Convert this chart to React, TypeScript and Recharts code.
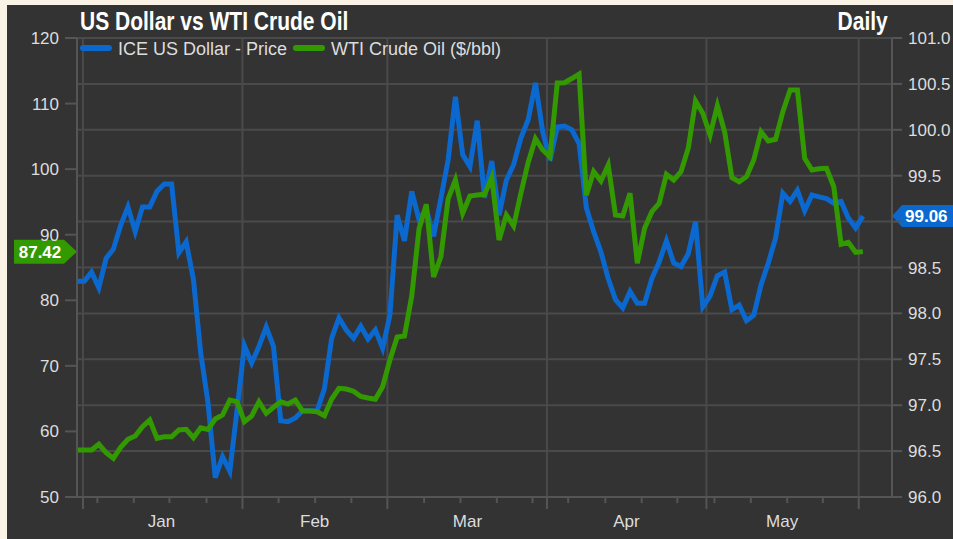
import React from "react";
import {
  LineChart,
  Line,
  XAxis,
  YAxis,
  CartesianGrid,
  ReferenceLine,
} from "recharts";

// Trading-day index (0 = first session shown)
const dayIndex: number[] = Array.from({ length: 109 }, (_, k) => k);

// ICE US Dollar index (right axis)
const usdValues: number[] = [
  98.35, 98.35, 98.45, 98.28, 98.6, 98.7, 98.96, 99.16, 98.89, 99.16,
  99.16, 99.33, 99.41, 99.41, 98.66, 98.78, 98.37, 97.57, 97.03, 96.21,
  96.44, 96.28, 96.95, 97.65, 97.46, 97.64, 97.85, 97.64, 96.83, 96.82,
  96.86, 96.94, 96.94, 96.94, 97.18, 97.73, 97.95, 97.82, 97.73, 97.86,
  97.72, 97.82, 97.62, 97.98, 99.07, 98.79, 99.33, 99.02, 99.14, 98.84,
  99.25, 99.67, 100.36, 99.73, 99.6, 100.1, 99.26, 99.66, 99.07, 99.45,
  99.62, 99.91, 100.11, 100.51, 99.98, 99.67, 100.03, 100.04, 100.0, 99.85,
  99.15, 98.89, 98.67, 98.38, 98.15, 98.06, 98.24, 98.11, 98.11, 98.38,
  98.56, 98.79, 98.55, 98.51, 98.65, 99.0, 98.07, 98.19, 98.41, 98.45,
  98.04, 98.09, 97.92, 97.98, 98.31, 98.55, 98.82, 99.31, 99.22, 99.34,
  99.12, 99.29, 99.27, 99.25, 99.2, 99.22, 99.04, 98.93, 99.06,
];

// WTI Crude Oil $/bbl (left axis)
const wtiValues: number[] = [
  57.17, 57.17, 57.17, 58.04, 56.75, 55.9, 57.58, 58.8, 59.3, 60.72,
  61.74, 58.95, 59.19, 59.19, 60.22, 60.32, 59.04, 60.57, 60.32, 61.9,
  62.5, 64.79, 64.53, 61.48, 62.35, 64.53, 62.76, 63.68, 64.53, 64.18,
  64.79, 63.11, 63.11, 63.0, 62.4, 64.94, 66.58, 66.47, 66.13, 65.33,
  65.1, 64.9, 66.82, 70.9, 74.4, 74.55, 80.65, 90.87, 94.61, 83.55,
  86.6, 95.45, 98.34, 93.27, 95.9, 96.06, 96.16, 98.73, 89.2, 93.0,
  91.33, 96.32, 101.01, 104.64, 102.92, 101.9, 113.14, 113.18, 113.82, 114.51,
  96.06, 99.64, 98.19, 100.63, 93.0, 92.85, 96.32, 85.64, 90.98, 93.51,
  94.79, 99.21, 98.34, 99.61, 103.18, 110.39, 108.52, 105.21, 109.68, 105.71,
  98.69, 98.08, 98.85, 101.39, 105.71, 104.29, 104.55, 108.76, 112.07, 112.07,
  101.65, 99.87, 100.07, 100.13, 97.32, 88.54, 88.84, 87.32, 87.42,
];

const monthStarts: number[] = [0.82, 22.74, 42.65, 64.58, 86.5, 107.43];
const weekTicks: number[] = [
  2.8, 7.8, 12.7, 17.8, 27.7, 32.73, 37.7, 47.7, 52.7, 57.7, 62.6, 67.5,
  72.6, 77.6, 82.5, 87.6, 92.6, 97.6, 102.5,
];
const monthLabels: string[] = ["Jan", "Feb", "Mar", "Apr", "May"];
const monthMids: number[] = [11.6, 32.66, 53.66, 75.5, 96.9];

const leftTicks: number[] = [50, 60, 70, 80, 90, 100, 110, 120];
const rightTicks: number[] = [96, 96.5, 97, 97.5, 98, 98.5, 99, 99.5, 100, 100.5, 101];

const TITLE = "US Dollar vs WTI Crude Oil";
const PERIOD = "Daily";
const USD_NAME = "ICE US Dollar - Price";
const WTI_NAME = "WTI Crude Oil ($/bbl)";

const data = dayIndex.map((i, k) => ({ i, usd: usdValues[k], wti: wtiValues[k] }));
const lastUsd = usdValues[usdValues.length - 1];
const lastWti = wtiValues[wtiValues.length - 1];

const BG = "#333333";
const GRID = "#4a4a4a";
const AXIS = "#555555";
const TEXT = "#dddddd";
const BLUE = "#0a68cf";
const GREEN = "#339900";
const FONT = "'Liberation Sans', Arial, Helvetica, sans-serif";

const allXTicks = [...monthStarts, ...weekTicks, ...monthMids];

const XTick = (props: any) => {
  const { x, y, payload } = props;
  const v = payload.value;
  const mi = monthMids.indexOf(v);
  if (mi >= 0) {
    return (
      <text x={x} y={y + 24} dy="0.35em" textAnchor="middle" fill={TEXT} fontSize={17} fontFamily={FONT}>
        {monthLabels[mi]}
      </text>
    );
  }
  const major = monthStarts.indexOf(v) >= 0;
  return <line x1={x} x2={x} y1={y} y2={y + (major ? 12 : 6)} stroke={AXIS} strokeWidth={2} />;
};

const WtiBadge = (props: any) => {
  const vb = props.viewBox || {};
  const x = vb.x;
  const cy = vb.y;
  const pts = `${x},${cy} ${x - 13},${cy - 12} ${x - 63},${cy - 12} ${x - 63},${cy + 12} ${x - 13},${cy + 12}`;
  return (
    <g>
      <polygon points={pts} fill={GREEN} />
      <text x={x - 37} y={cy} dy="0.36em" textAnchor="middle" fill="#ffffff" fontWeight="bold" fontSize={17} fontFamily={FONT}>
        {lastWti.toFixed(2)}
      </text>
    </g>
  );
};

const UsdBadge = (props: any) => {
  const vb = props.viewBox || {};
  const x = vb.x + vb.width;
  const cy = vb.y;
  const pts = `${x},${cy} ${x + 10},${cy - 11} ${x + 80},${cy - 11} ${x + 80},${cy + 11} ${x + 10},${cy + 11}`;
  return (
    <g>
      <polygon points={pts} fill={BLUE} />
      <text x={x + 13} y={cy} dy="0.36em" textAnchor="start" fill="#ffffff" fontWeight="bold" fontSize={17} fontFamily={FONT}>
        {lastUsd.toFixed(2)}
      </text>
    </g>
  );
};

// the last-value badge covers the 99.0 label in the reference
const rightTickFormat = (v: number) => (Math.abs(v - Math.round(lastUsd * 2) / 2) < 1e-6 ? "" : v.toFixed(1));

export default function App() {
  return (
    <div style={{ position: "fixed", left: 0, top: 0, width: 953, height: 539, background: "#faf3e5" }}>
      <div style={{ position: "absolute", left: 7, top: 5, width: 946, height: 534, background: BG, overflow: "hidden" }}>
        <LineChart
          width={946}
          height={534}
          data={data}
          margin={{ top: 33, right: 0, bottom: 0, left: 0 }}
          style={{ fontFamily: FONT }}
        >
          <CartesianGrid yAxisId="right" vertical={false} stroke={GRID} strokeWidth={2} />
          {monthStarts.map((m) => (
            <ReferenceLine key={m} x={m} yAxisId="right" stroke={GRID} strokeWidth={2} />
          ))}
          <XAxis
            dataKey="i"
            type="number"
            domain={[0, 112]}
            ticks={allXTicks}
            interval={0}
            tickSize={0}
            tickMargin={0}
            tickLine={false}
            axisLine={{ stroke: AXIS, strokeWidth: 2 }}
            tick={<XTick />}
            height={42}
          />
          <YAxis
            yAxisId="left"
            orientation="left"
            domain={[50, 120]}
            ticks={leftTicks}
            interval={0}
            width={70}
            tickSize={12}
            tickMargin={6}
            axisLine={{ stroke: AXIS, strokeWidth: 2 }}
            tickLine={{ stroke: AXIS, strokeWidth: 2 }}
            tick={{ fill: TEXT, fontSize: 17, fontFamily: FONT }}
          />
          <YAxis
            yAxisId="right"
            orientation="right"
            domain={[96, 101]}
            ticks={rightTicks}
            interval={0}
            width={61}
            tickSize={10}
            tickMargin={6}
            tickFormatter={rightTickFormat}
            axisLine={{ stroke: AXIS, strokeWidth: 2 }}
            tickLine={{ stroke: AXIS, strokeWidth: 2 }}
            tick={{ fill: TEXT, fontSize: 17, fontFamily: FONT }}
          />
          <Line
            yAxisId="right"
            dataKey="usd"
            name={USD_NAME}
            type="linear"
            stroke={BLUE}
            strokeWidth={5}
            dot={false}
            isAnimationActive={false}
          />
          <Line
            yAxisId="left"
            dataKey="wti"
            name={WTI_NAME}
            type="linear"
            stroke={GREEN}
            strokeWidth={5}
            dot={false}
            isAnimationActive={false}
          />
          <ReferenceLine yAxisId="left" y={lastWti} stroke="none" label={{ content: (p: any) => <WtiBadge {...p} /> }} />
          <ReferenceLine yAxisId="right" y={lastUsd} stroke="none" label={{ content: (p: any) => <UsdBadge {...p} /> }} />
        </LineChart>

        <div
          style={{
            position: "absolute",
            left: 73,
            top: 4,
            fontFamily: FONT,
            fontWeight: "bold",
            fontSize: 25,
            lineHeight: "25px",
            color: "#ffffff",
            whiteSpace: "nowrap",
            transform: "scaleX(0.84)",
            transformOrigin: "left top",
          }}
        >
          {TITLE}
        </div>
        <div
          style={{
            position: "absolute",
            right: 65,
            top: 4,
            fontFamily: FONT,
            fontWeight: "bold",
            fontSize: 25,
            lineHeight: "25px",
            color: "#ffffff",
            whiteSpace: "nowrap",
            transform: "scaleX(0.84)",
            transformOrigin: "right top",
          }}
        >
          {PERIOD}
        </div>
        <div style={{ position: "absolute", left: 73, top: 40, width: 32, height: 6, borderRadius: 3, background: BLUE }} />
        <div
          style={{ position: "absolute", left: 111, top: 35, fontFamily: FONT, fontSize: 18, lineHeight: "18px", color: TEXT, whiteSpace: "nowrap" }}
        >
          {USD_NAME}
        </div>
        <div style={{ position: "absolute", left: 286, top: 40, width: 32, height: 6, borderRadius: 3, background: GREEN }} />
        <div
          style={{ position: "absolute", left: 324, top: 35, fontFamily: FONT, fontSize: 18, lineHeight: "18px", color: TEXT, whiteSpace: "nowrap" }}
        >
          {WTI_NAME}
        </div>
      </div>
    </div>
  );
}
